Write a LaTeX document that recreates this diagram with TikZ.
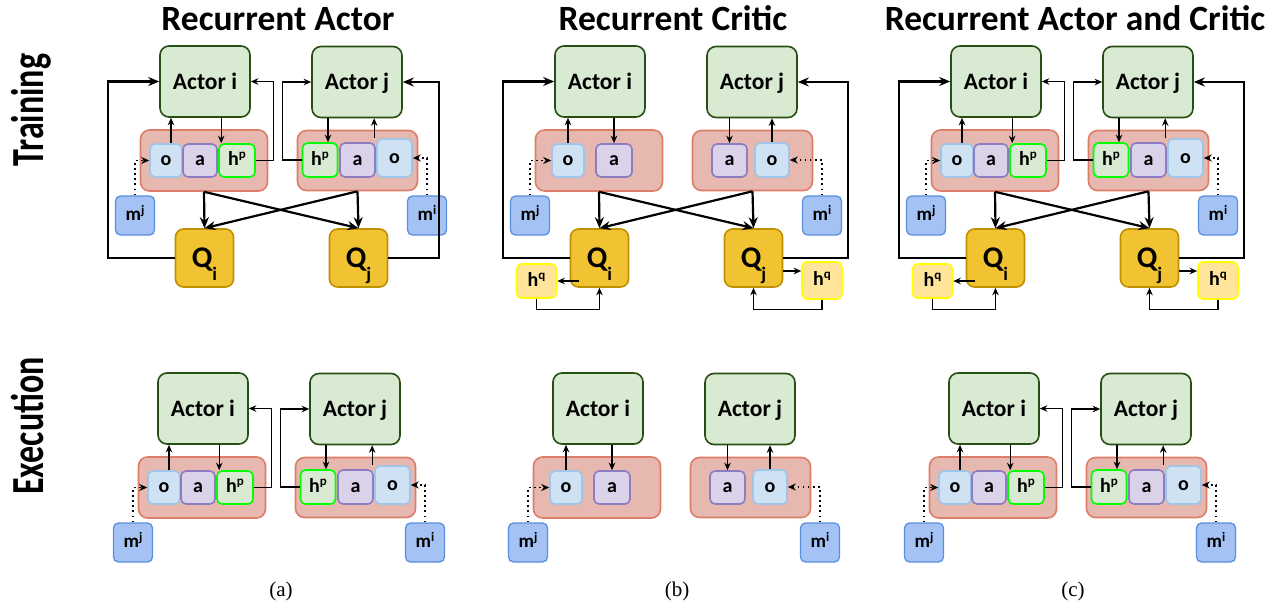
\documentclass[tikz,border=0pt]{standalone}
\usepackage{fontspec}
\usepackage{graphicx}
\setmainfont{Carlito}
\newfontfamily\capfont{Liberation Serif}
\usetikzlibrary{arrows.meta,calc}
\definecolor{actfill}{HTML}{D9EAD3}
\definecolor{actdraw}{HTML}{274E13}
\definecolor{contfill}{HTML}{E6B8AF}
\definecolor{contdraw}{HTML}{DD7E6B}
\definecolor{ofill}{HTML}{CFE2F3}
\definecolor{odraw}{HTML}{9FC5E8}
\definecolor{afill}{HTML}{D9D2E9}
\definecolor{adraw}{HTML}{8E7CC3}
\definecolor{hpdraw}{HTML}{00FF00}
\definecolor{mfill}{HTML}{A4C2F4}
\definecolor{mdraw}{HTML}{5B8FE0}
\definecolor{qfill}{HTML}{F1C232}
\definecolor{qdraw}{HTML}{BF9000}
\definecolor{hqfill}{HTML}{FFE599}
\definecolor{hqdraw}{HTML}{FFFF00}
\newcommand\supx[1]{\raisebox{0.34em}{\fontsize{13}{13}\selectfont #1}}
\newcommand\subq[1]{\smash{\raisebox{-13pt}{\fontsize{19}{19}\selectfont #1}}}

\newcommand\actorsHP{%
  \node[actor] (Ai) at (205,81.5) {Actor i};
  \node[actor] (Aj) at (357,82) {Actor j};
  \node[cont, minimum width=127pt, minimum height=61pt] (Ci) at (204,160.5) {};
  \node[cont, minimum width=120pt, minimum height=60pt] (Cj) at (357.5,160.5) {};
  \node[obox, minimum width=32pt, minimum height=33pt] (oi) at (166,160.5) {o};
  \node[abox, minimum width=34pt, minimum height=33pt] (ai) at (200,160.5) {a};
  \node[hbox, minimum width=36pt, minimum height=33pt] (hi) at (237,160.5) {h\supx{p}};
  \node[hbox, minimum width=35pt, minimum height=34pt] (hj) at (320,160) {h\supx{p}};
  \node[abox, minimum width=35pt, minimum height=34pt] (aj) at (357.5,160) {a};
  \node[obox, minimum width=35pt, minimum height=38pt] (oj) at (394.5,158) {o};
  \node[mbox] (mj) at (135,215.5) {m\supx{j}};
  \node[mbox] (mi) at (427,215.5) {m\supx{i}};
  \coordinate (p1) at ([xshift=5pt]oi.north);
  \draw[smallarrow] (p1) -- (p1 |- Ai.south);
  \coordinate (p2) at ([xshift=3pt]hi.north west);
  \draw[smallarrow] (p2 |- Ai.south) -- (p2);
  \coordinate (p3) at ([xshift=-2pt]oj.north west);
  \draw[smallarrow] (p3) -- (p3 |- Aj.south);
  \coordinate (p4) at ([xshift=8pt]hj.north);
  \draw[smallarrow] (p4 |- Aj.south) -- (p4);
  \draw[smallarrow] (hi.east) -- ++(18,0) |- (Ai.east);
  \draw[smallarrow] (hj.west) -- ++(-19,0) |- (Aj.west);
  \draw[dotarrow] (mj.north) |- (oi.west);
  \draw[dotarrow] (mi.north) |- (oj.east);
}
\newcommand\actorsPlain{%
  \node[actor] (Ai) at (205,81.5) {Actor i};
  \node[actor] (Aj) at (357,82) {Actor j};
  \node[cont, minimum width=127pt, minimum height=61pt] (Ci) at (204,160.5) {};
  \node[cont, minimum width=120pt, minimum height=60pt] (Cj) at (357.5,160.5) {};
  \node[obox, minimum width=32pt, minimum height=33pt] (oi) at (173,160.5) {o};
  \node[abox, minimum width=36pt, minimum height=33pt] (ai) at (219,160.5) {a};
  \node[abox, minimum width=35pt, minimum height=33pt] (aj) at (334.5,160.5) {a};
  \node[obox, minimum width=34pt, minimum height=34pt] (oj) at (377,160) {o};
  \node[mbox] (mj) at (135,215.5) {m\supx{j}};
  \node[mbox] (mi) at (427,215.5) {m\supx{i}};
  \draw[smallarrow] (oi.north) -- (oi.north |- Ai.south);
  \draw[smallarrow] (ai.north |- Ai.south) -- (ai.north);
  \draw[smallarrow] (aj.north |- Aj.south) -- (aj.north);
  \draw[smallarrow] (oj.north) -- (oj.north |- Aj.south);
  \draw[dotarrow] (mj.north) |- (oi.west);
  \draw[dotarrow] (mi.north) |- (oj.east);
}
\newcommand\criticQ{%
  \node[qbox] (Qi) at (204.5,258) {Q\subq{i}};
  \node[qbox] (Qj) at (358.5,258) {Q\subq{j}};
  \draw[bigarrow] (Ci.south) -- (Qi.north);
  \draw[bigarrow] (Ci.south) -- (Qj.north);
  \draw[bigarrow] (Cj.south) -- (Qj.north);
  \draw[bigarrow] (Cj.south) -- (Qi.north);
  \draw[bigarrow] (Qi.west) -- ++(-66.5,0) |- (Ai.west);
}
\newcommand\criticA{%
  \criticQ
  \draw[bigarrow] (Qj.east) -- ++(50.5,0) |- (Aj.east);
}
\newcommand\criticB{%
  \criticQ
  \draw[bigarrow] (Qj.east) -- ++(64.5,0) |- (Aj.east);
  \node[hqbox, minimum height=34pt] (hqi) at (141.5,281) {h\supx{q}};
  \node[hqbox, minimum height=37pt] (hqj) at (427,280.5) {h\supx{q}};
  \coordinate (q1) at ([xshift=9pt,yshift=-23pt]Qi.west);
  \draw[smallarrow] (q1) -- (q1 -| hqi.east);
  \draw[smallarrow] (hqi.south) -- ++(0,11) -| (Qi.south);
  \coordinate (q2) at ([yshift=-13pt]Qj.east);
  \draw[smallarrow] (q2) -- (q2 -| hqj.west);
  \draw[smallarrow] (hqj.south) -- ++(0,10) -| (Qj.south);
}

\begin{document}
\begin{tikzpicture}[x=1pt, y=-1pt,
  base/.style={draw, inner sep=0pt, line width=1.6pt},
  actor/.style={base, fill=actfill, draw=actdraw, rounded corners=9pt,
    minimum width=90pt, minimum height=71pt,
    font=\bfseries\fontsize{23.5}{23.5}\selectfont, text height=15pt, text depth=0pt},
  cont/.style={base, fill=contfill, draw=contdraw, rounded corners=9pt},
  small/.style={base, rounded corners=5pt,
    font=\bfseries\fontsize{20}{20}\selectfont, text height=10pt, text depth=0pt},
  obox/.style={small, fill=ofill, draw=odraw},
  abox/.style={small, fill=afill, draw=adraw},
  hbox/.style={small, fill=actfill, draw=hpdraw},
  mbox/.style={small, fill=mfill, draw=mdraw, line width=1.3pt,
    minimum width=39pt, minimum height=39pt, font=\bfseries\fontsize{19}{19}\selectfont},
  qbox/.style={base, fill=qfill, draw=qdraw, rounded corners=8pt,
    minimum width=58pt, minimum height=58pt,
    font=\bfseries\fontsize{30}{30}\selectfont, text height=19pt, text depth=0pt},
  hqbox/.style={small, fill=hqfill, draw=hqdraw, minimum width=40pt},
  bigarrow/.style={line width=2.2pt, -{Stealth[length=11pt,width=9pt]}},
  smallarrow/.style={line width=1.3pt, -{Stealth[length=7.5pt,width=6.5pt]}},
  dotarrow/.style={line width=1.7pt, dash pattern=on 1.7pt off 3.4pt,
    -{Stealth[length=8pt,width=7pt]}},
  title/.style={inner sep=0pt, font=\bfseries\fontsize{35.5}{35.5}\selectfont,
    text height=23pt, text depth=0pt},
  side/.style={inner sep=0pt, rotate=90, font=\bfseries\fontsize{34}{34}\selectfont,
    text height=29.6pt, text depth=0pt},
  subcap/.style={inner sep=0pt, font=\capfont\fontsize{21}{21}\selectfont}
]
\useasboundingbox[fill=white] (0,0) rectangle (1286,608);

\node[title] (t1) at (278,19) {Recurrent Actor};
\node[title] (t2) at (673,19) {Recurrent Critic};
\node[title] (t3) at (1075,19) {Recurrent Actor and Critic};
\node[side] (s1) at (29,110) {\scalebox{1}[1.35]{Training}};
\node[side] (s2) at (29,426) {\scalebox{1}[1.35]{Execution}};

\begin{scope}[shift={(0,0)}, name prefix=ta-]
  \actorsHP \criticA
\end{scope}
\begin{scope}[shift={(395,0)}, name prefix=tb-]
  \actorsPlain \criticB
\end{scope}
\begin{scope}[shift={(791,0)}, name prefix=tc-]
  \actorsHP \criticB
\end{scope}
\begin{scope}[shift={(-2,327)}, name prefix=ea-]
  \actorsHP
\end{scope}
\begin{scope}[shift={(393,327)}, name prefix=eb-]
  \actorsPlain
\end{scope}
\begin{scope}[shift={(789,327)}, name prefix=ec-]
  \actorsHP
\end{scope}

\node[subcap] (c1) at (281,591) {(a)};
\node[subcap] (c2) at (677,591) {(b)};
\node[subcap] (c3) at (1073,591) {(c)};
\end{tikzpicture}
\end{document}
